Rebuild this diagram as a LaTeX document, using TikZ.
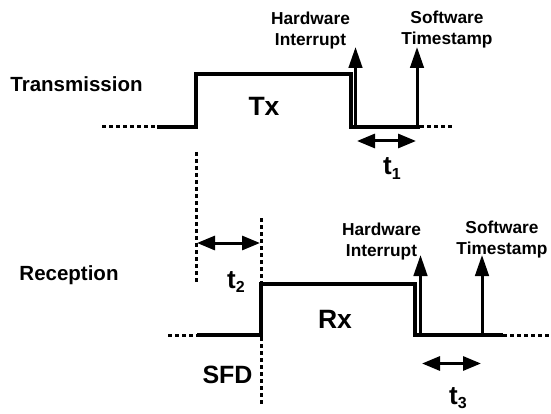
\documentclass[tikz,border=0pt]{standalone}
\usepackage{fontspec}
\setmainfont{Liberation Sans}
\usetikzlibrary{arrows.meta}
\begin{document}
\begin{tikzpicture}[x=1pt,y=-1pt,
  wave/.style={line width=3.2pt, line join=miter},
  dots/.style={line width=3pt, dash pattern=on 4pt off 3pt},
  evt/.style={line width=3pt, -{Triangle[length=21pt,width=13.5pt]}},
  span/.style={line width=3pt, {Triangle[length=18pt,width=14pt]}-{Triangle[length=18pt,width=14pt]}},
  note/.style={font=\bfseries\fontsize{17.3}{21}\selectfont, align=center, inner sep=0pt, anchor=north},
  title/.style={font=\bfseries\fontsize{20.5}{22}\selectfont, inner sep=0pt, anchor=base},
  big/.style={font=\bfseries\fontsize{26.5}{28}\selectfont, inner sep=0pt, anchor=base},
  tlab/.style={font=\bfseries\fontsize{26}{28}\selectfont, inner sep=0pt, anchor=base west},
]
\useasboundingbox (0,0) rectangle (551,414);
\newcommand{\tsub}[2]{#1\raisebox{-4.5pt}{\fontsize{16}{16}\selectfont #2}}

% ---------- Transmission ----------
\coordinate (a0) at (102,127);
\coordinate (a1) at (157,127);
\coordinate (a2) at (196,127);
\coordinate (a3) at (196,74);
\coordinate (a4) at (351,74);
\coordinate (a5) at (351,127);
\coordinate (a6) at (420,127);
\coordinate (a7) at (452,127);
\draw[dots] (a0) -- (a1);
\draw[wave] (a1) -- (a2) -- (a3) -- (a4) -- (a5) -- (a6);
\draw[dots] (a6) -- (a7);

\coordinate (hwb1) at (355.5,127);
\coordinate (hwt1) at (355.5,47);
\coordinate (swb1) at (417,127);
\coordinate (swt1) at (417,47);
\draw[evt] (hwb1) -- (hwt1);
\draw[evt] (swb1) -- (swt1);

\coordinate (t1a) at (357,141);
\coordinate (t1b) at (416,141);
\draw[span] (t1a) -- (t1b);

\node[title] (trans) at (76.5,92) {Transmission};
\node[big] (tx) at (264,116) {Tx};
\node[note] (hw1) at (310.5,11.5) {Hardware\\Interrupt};
\node[note] (sw1) at (447,10.5) {Software\\Timestamp};
\node[tlab] (t1) at (383,175) {\tsub{t}{1}};

% ---------- vertical markers ----------
\coordinate (v1a) at (196.5,152);
\coordinate (v1b) at (196.5,282);
\coordinate (v2a) at (261,218);
\coordinate (v2b) at (261,404);
\draw[dots] (v1a) -- (v1b);
\draw[dots] (v2a) -- (v2b);

\coordinate (t2a) at (197,243);
\coordinate (t2b) at (260,243);
\draw[span] (t2a) -- (t2b);
\node[tlab] (t2) at (227,288) {\tsub{t}{2}};

% ---------- Reception ----------
\coordinate (b0) at (168,335);
\coordinate (b1) at (197,335);
\coordinate (b2) at (261,335);
\coordinate (b3) at (261,284);
\coordinate (b4) at (415,284);
\coordinate (b5) at (415,335);
\coordinate (b6) at (503,335);
\coordinate (b7) at (550,335);
\draw[dots] (b0) -- (b1);
\draw[wave] (b1) -- (b2) -- (b3) -- (b4) -- (b5) -- (b6);
\draw[dots] (b6) -- (b7);

\coordinate (hwb2) at (420.5,335);
\coordinate (hwt2) at (420.5,255);
\coordinate (swb2) at (482,335);
\coordinate (swt2) at (482,255);
\draw[evt] (hwb2) -- (hwt2);
\draw[evt] (swb2) -- (swt2);

\coordinate (t3a) at (422,363.5);
\coordinate (t3b) at (481,363.5);
\draw[span] (t3a) -- (t3b);

\node[title] (recv) at (69,280) {Reception};
\node[big] (rx) at (335,328) {Rx};
\node[big, font=\bfseries\fontsize{25}{27}\selectfont] (sfd) at (227.5,383) {SFD};
\node[note] (hw2) at (381.5,222.5) {Hardware\\Interrupt};
\node[note] (sw2) at (502,220.5) {Software\\Timestamp};
\node[tlab] (t3) at (449,404) {\tsub{t}{3}};
\end{tikzpicture}
\end{document}
